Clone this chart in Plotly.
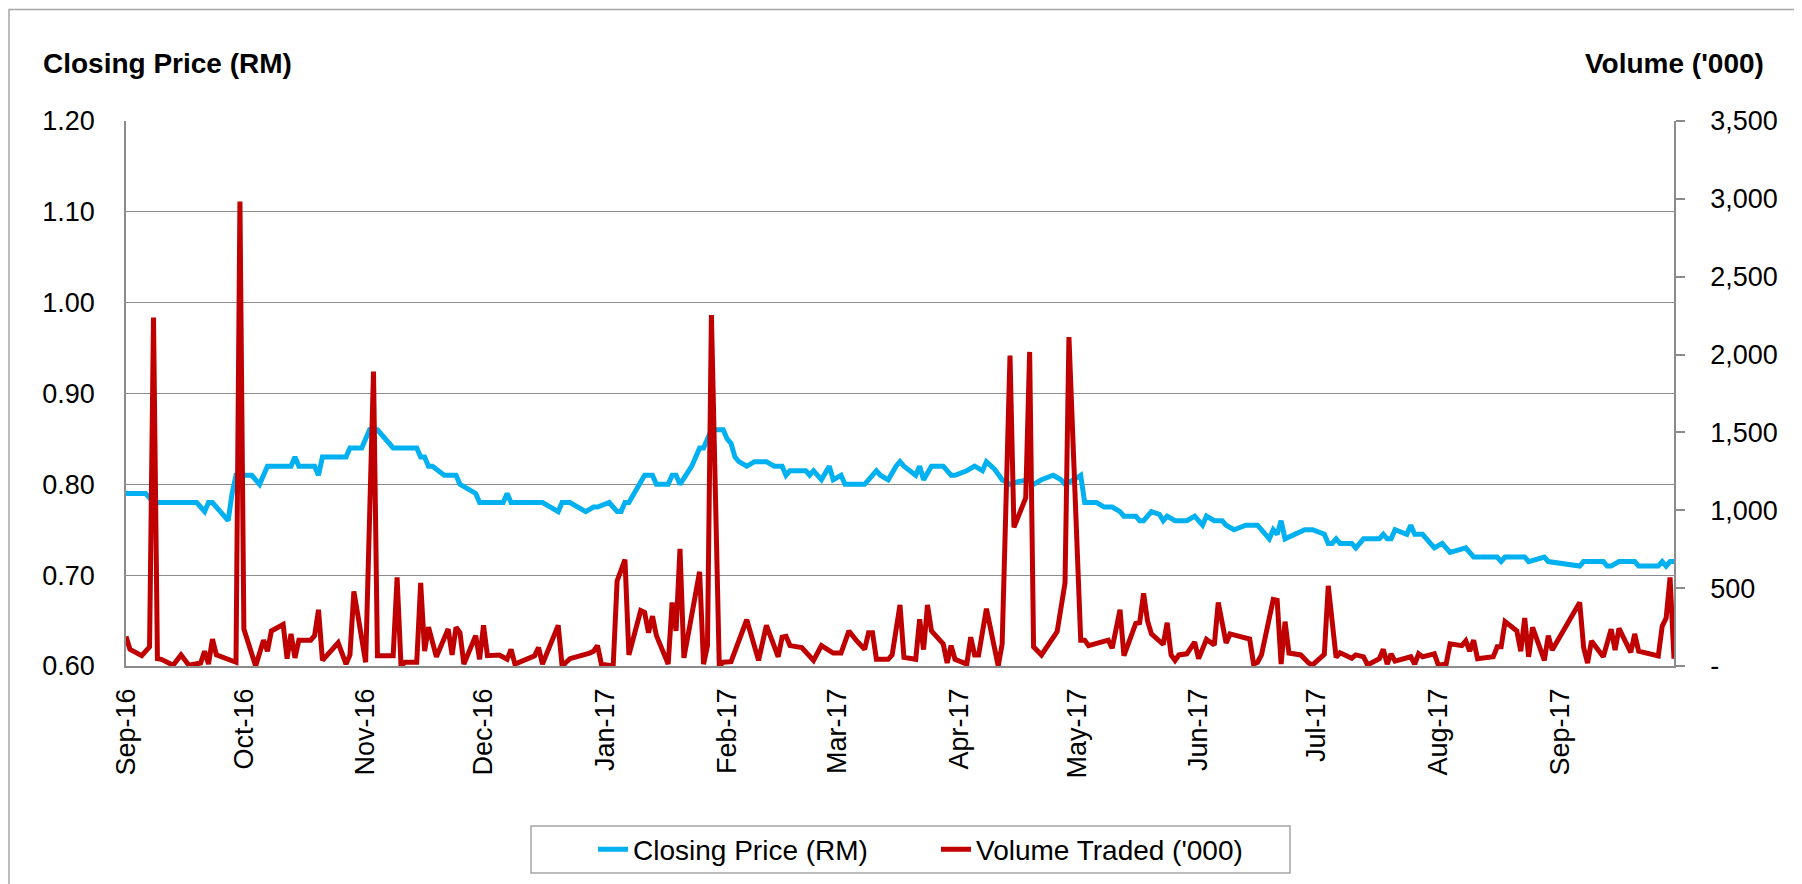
import plotly.graph_objects as go

# ---------------- data ----------------
price_dates = [
    "2016-09-01", "2016-09-06", "2016-09-08", "2016-09-19", "2016-09-21", "2016-09-22", "2016-09-23",
    "2016-09-27", "2016-09-28", "2016-09-29", "2016-10-03", "2016-10-05", "2016-10-07", "2016-10-13",
    "2016-10-14", "2016-10-15", "2016-10-19", "2016-10-20", "2016-10-21", "2016-10-27", "2016-10-28",
    "2016-10-31", "2016-11-02", "2016-11-04", "2016-11-08", "2016-11-14", "2016-11-15", "2016-11-16",
    "2016-11-17", "2016-11-18", "2016-11-21", "2016-11-24", "2016-11-25", "2016-11-27", "2016-11-29",
    "2016-11-30", "2016-12-06", "2016-12-07", "2016-12-08", "2016-12-16", "2016-12-20", "2016-12-21",
    "2016-12-23", "2016-12-27", "2016-12-29", "2016-12-30", "2017-01-02", "2017-01-04", "2017-01-05",
    "2017-01-06", "2017-01-07", "2017-01-11", "2017-01-13", "2017-01-14", "2017-01-17", "2017-01-18",
    "2017-01-19", "2017-01-20", "2017-01-23", "2017-01-24", "2017-01-25", "2017-01-26", "2017-01-28",
    "2017-01-31", "2017-02-01", "2017-02-02", "2017-02-03", "2017-02-04", "2017-02-06", "2017-02-08",
    "2017-02-11", "2017-02-13", "2017-02-15", "2017-02-16", "2017-02-17", "2017-02-21", "2017-02-22",
    "2017-02-23", "2017-02-25", "2017-02-27", "2017-02-28", "2017-03-02", "2017-03-03", "2017-03-08",
    "2017-03-09", "2017-03-11", "2017-03-12", "2017-03-14", "2017-03-16", "2017-03-17", "2017-03-18",
    "2017-03-21", "2017-03-22", "2017-03-23", "2017-03-25", "2017-03-28", "2017-03-30", "2017-03-31",
    "2017-04-03", "2017-04-05", "2017-04-07", "2017-04-08", "2017-04-10", "2017-04-12", "2017-04-14",
    "2017-04-16", "2017-04-19", "2017-04-20", "2017-04-22", "2017-04-25", "2017-04-27", "2017-04-28",
    "2017-05-01", "2017-05-02", "2017-05-03", "2017-05-06", "2017-05-08", "2017-05-10", "2017-05-12",
    "2017-05-13", "2017-05-16", "2017-05-17", "2017-05-18", "2017-05-20", "2017-05-22", "2017-05-23",
    "2017-05-24", "2017-05-26", "2017-05-29", "2017-05-31", "2017-06-02", "2017-06-03", "2017-06-05",
    "2017-06-07", "2017-06-08", "2017-06-10", "2017-06-13", "2017-06-16", "2017-06-19", "2017-06-20",
    "2017-06-21", "2017-06-22", "2017-06-23", "2017-06-28", "2017-06-30", "2017-07-03", "2017-07-04",
    "2017-07-05", "2017-07-06", "2017-07-07", "2017-07-10", "2017-07-11", "2017-07-13", "2017-07-17",
    "2017-07-18", "2017-07-19", "2017-07-20", "2017-07-21", "2017-07-24", "2017-07-25", "2017-07-26",
    "2017-07-28", "2017-07-31", "2017-08-02", "2017-08-04", "2017-08-08", "2017-08-10", "2017-08-16",
    "2017-08-17", "2017-08-18", "2017-08-23", "2017-08-24", "2017-08-28", "2017-08-29", "2017-09-06",
    "2017-09-07", "2017-09-12", "2017-09-13", "2017-09-14", "2017-09-16", "2017-09-20", "2017-09-21",
    "2017-09-26", "2017-09-27", "2017-09-28", "2017-09-29", "2017-09-30",
]
closing_price = [
    0.79, 0.79, 0.78, 0.78, 0.77, 0.78, 0.78,
    0.76, 0.79, 0.81, 0.81, 0.80, 0.82, 0.82,
    0.83, 0.82, 0.82, 0.81, 0.83, 0.83, 0.84,
    0.84, 0.86, 0.86, 0.84, 0.84, 0.83, 0.83,
    0.82, 0.82, 0.81, 0.81, 0.80, 0.795, 0.79,
    0.78, 0.78, 0.79, 0.78, 0.78, 0.77, 0.78,
    0.78, 0.77, 0.775, 0.775, 0.78, 0.77, 0.77,
    0.78, 0.78, 0.81, 0.81, 0.80, 0.80, 0.81,
    0.81, 0.80, 0.82, 0.83, 0.84, 0.84, 0.86,
    0.86, 0.85, 0.845, 0.83, 0.825, 0.82, 0.825,
    0.825, 0.82, 0.82, 0.81, 0.815, 0.815, 0.81,
    0.815, 0.805, 0.82, 0.805, 0.81, 0.80, 0.80,
    0.805, 0.815, 0.81, 0.805, 0.82, 0.825, 0.82,
    0.81, 0.82, 0.805, 0.82, 0.82, 0.81, 0.81,
    0.815, 0.82, 0.815, 0.825, 0.817, 0.805, 0.80,
    0.803, 0.805, 0.80, 0.805, 0.81, 0.805, 0.80,
    0.807, 0.81, 0.78, 0.78, 0.775, 0.775, 0.77,
    0.765, 0.765, 0.76, 0.76, 0.77, 0.767, 0.76,
    0.765, 0.76, 0.76, 0.765, 0.755, 0.765, 0.76,
    0.76, 0.755, 0.75, 0.755, 0.755, 0.74, 0.75,
    0.745, 0.76, 0.74, 0.75, 0.75, 0.745, 0.735,
    0.735, 0.74, 0.735, 0.735, 0.73, 0.74, 0.74,
    0.745, 0.74, 0.74, 0.75, 0.745, 0.755, 0.745,
    0.745, 0.73, 0.735, 0.725, 0.73, 0.72, 0.72,
    0.715, 0.72, 0.72, 0.715, 0.72, 0.715, 0.71,
    0.715, 0.715, 0.71, 0.71, 0.715, 0.715, 0.71,
    0.71, 0.715, 0.71, 0.715, 0.715,
]

volume_dates = [
    "2016-09-01", "2016-09-02", "2016-09-05", "2016-09-07", "2016-09-08", "2016-09-09", "2016-09-10",
    "2016-09-13", "2016-09-15", "2016-09-17", "2016-09-20", "2016-09-21", "2016-09-22", "2016-09-23",
    "2016-09-24", "2016-09-29", "2016-09-30", "2016-10-01", "2016-10-04", "2016-10-06", "2016-10-07",
    "2016-10-08", "2016-10-11", "2016-10-12", "2016-10-13", "2016-10-14", "2016-10-15", "2016-10-18",
    "2016-10-19", "2016-10-20", "2016-10-21", "2016-10-25", "2016-10-27", "2016-10-28", "2016-10-29",
    "2016-11-01", "2016-11-03", "2016-11-04", "2016-11-08", "2016-11-09", "2016-11-10", "2016-11-11",
    "2016-11-14", "2016-11-15", "2016-11-16", "2016-11-17", "2016-11-19", "2016-11-22", "2016-11-23",
    "2016-11-24", "2016-11-25", "2016-11-26", "2016-11-29", "2016-11-30", "2016-12-01", "2016-12-02",
    "2016-12-05", "2016-12-07", "2016-12-08", "2016-12-09", "2016-12-14", "2016-12-15", "2016-12-16",
    "2016-12-20", "2016-12-21", "2016-12-23", "2016-12-28", "2016-12-29", "2016-12-30", "2016-12-31",
    "2017-01-03", "2017-01-04", "2017-01-06", "2017-01-07", "2017-01-10", "2017-01-11", "2017-01-12",
    "2017-01-13", "2017-01-14", "2017-01-17", "2017-01-18", "2017-01-19", "2017-01-20", "2017-01-21",
    "2017-01-25", "2017-01-26", "2017-01-27", "2017-01-28", "2017-01-30", "2017-01-31", "2017-02-02",
    "2017-02-06", "2017-02-09", "2017-02-11", "2017-02-14", "2017-02-15", "2017-02-16", "2017-02-17",
    "2017-02-20", "2017-02-23", "2017-02-25", "2017-02-28", "2017-03-02", "2017-03-04", "2017-03-06",
    "2017-03-08", "2017-03-09", "2017-03-10", "2017-03-11", "2017-03-14", "2017-03-15", "2017-03-17",
    "2017-03-18", "2017-03-21", "2017-03-22", "2017-03-23", "2017-03-24", "2017-03-25", "2017-03-28",
    "2017-03-29", "2017-03-30", "2017-03-31", "2017-04-03", "2017-04-04", "2017-04-05", "2017-04-06",
    "2017-04-08", "2017-04-11", "2017-04-12", "2017-04-14", "2017-04-15", "2017-04-18", "2017-04-19",
    "2017-04-20", "2017-04-22", "2017-04-26", "2017-04-28", "2017-04-29", "2017-05-02", "2017-05-03",
    "2017-05-04", "2017-05-09", "2017-05-10", "2017-05-12", "2017-05-13", "2017-05-16", "2017-05-17",
    "2017-05-18", "2017-05-19", "2017-05-20", "2017-05-23", "2017-05-24", "2017-05-25", "2017-05-26",
    "2017-05-27", "2017-05-29", "2017-05-31", "2017-06-01", "2017-06-03", "2017-06-05", "2017-06-06",
    "2017-06-08", "2017-06-09", "2017-06-14", "2017-06-15", "2017-06-16", "2017-06-17", "2017-06-20",
    "2017-06-21", "2017-06-22", "2017-06-23", "2017-06-24", "2017-06-27", "2017-06-29", "2017-06-30",
    "2017-07-03", "2017-07-04", "2017-07-06", "2017-07-07", "2017-07-10", "2017-07-11", "2017-07-13",
    "2017-07-14", "2017-07-17", "2017-07-18", "2017-07-19", "2017-07-20", "2017-07-21", "2017-07-25",
    "2017-07-26", "2017-07-27", "2017-07-28", "2017-07-31", "2017-08-01", "2017-08-03", "2017-08-04",
    "2017-08-07", "2017-08-08", "2017-08-09", "2017-08-10", "2017-08-11", "2017-08-15", "2017-08-16",
    "2017-08-17", "2017-08-18", "2017-08-21", "2017-08-22", "2017-08-23", "2017-08-24", "2017-08-25",
    "2017-08-28", "2017-08-29", "2017-08-30", "2017-09-06", "2017-09-07", "2017-09-08", "2017-09-09",
    "2017-09-12", "2017-09-14", "2017-09-15", "2017-09-16", "2017-09-19", "2017-09-20", "2017-09-21",
    "2017-09-26", "2017-09-27", "2017-09-28", "2017-09-29", "2017-09-30",
]
volume_traded = [
    190, 107, 66, 123, 2238, 47, 43,
    5, 71, 5, 19, 95, 12, 173,
    71, 24, 2983, 237, 0, 166, 95,
    225, 266, 47, 206, 52, 166, 166,
    195, 361, 36, 149, 12, 71, 479,
    24, 1891, 66, 66, 569, 0, 24,
    24, 534, 95, 249, 59, 237, 71,
    249, 214, 12, 195, 43, 261, 66,
    71, 43, 107, 12, 65, 119, 12,
    261, 0, 47, 83, 95, 131, 12,
    0, 546, 683, 71, 356, 344, 214,
    320, 195, 12, 408, 225, 752, 52,
    605, 12, 131, 2254, 0, 24, 28,
    297, 36, 261, 59, 185, 190, 131,
    119, 36, 131, 83, 83, 225, 161,
    107, 214, 214, 43, 43, 71, 392,
    55, 43, 300, 105, 392, 225, 142,
    20, 131, 43, 12, 185, 71, 71,
    368, 0, 142, 1993, 890, 1080, 2017,
    123, 71, 221, 534, 2112, 166, 166,
    131, 166, 114, 361, 66, 273, 278,
    467, 289, 206, 138, 278, 71, 36,
    71, 78, 154, 47, 171, 135, 408,
    147, 206, 173, 12, 24, 71, 427,
    422, 12, 285, 83, 71, 19, 7,
    75, 515, 55, 85, 50, 71, 59,
    7, 47, 107, 12, 78, 31, 59,
    12, 78, 59, 78, 7, 12, 142,
    131, 161, 95, 166, 47, 59, 123,
    123, 285, 225, 95, 308, 59, 249,
    36, 195, 102, 408, 119, 19, 161,
    59, 237, 102, 242, 88, 206, 95,
    64, 256, 308, 569, 47,
]

month_ticks = ["2016-09-01", "2016-10-01", "2016-11-01", "2016-12-01", "2017-01-01", "2017-02-01",
               "2017-03-01", "2017-04-01", "2017-05-01", "2017-06-01", "2017-07-01", "2017-08-01",
               "2017-09-01"]
price_ticks = [0.6, 0.7, 0.8, 0.9, 1.0, 1.1, 1.2]
volume_ticks = [0, 500, 1000, 1500, 2000, 2500, 3000, 3500]
volume_ticktext = ["-", "500", "1,000", "1,500", "2,000", "2,500", "3,000", "3,500"]

# ---------------- style ----------------
FONT = "Arial, Liberation Sans, sans-serif"
GRID = "#8C8C8C"
BLUE = "#00B0F0"
RED = "#C00000"
OFF = 8                       # page body margin of the html page
W, H = 1802 - OFF, 884 - OFF  # figure size
PL, PT, PR, PB = 126, 121, 1674, 666   # plot area on the page
ML, MT = PL - OFF, PT - OFF
MR, MB = W - (PR - OFF), H - (PB - OFF)
PW, PH = PR - PL, PB - PT
NBSP = "\u00a0"


def px(x):
    return (x - PL) / PW


def py(y):
    return (PB - y) / PH


# pad right-axis labels to a common width so they share the same left edge
_em = {"-": 0.333, ",": 0.278}
_w = [sum(_em.get(c, 0.556) for c in t) for t in volume_ticktext]
_wmax = max(_w)
vol_labels = [t + NBSP * int(round((_wmax - w) / 0.278)) for t, w in zip(volume_ticktext, _w)]

fig = go.Figure()
fig.add_trace(go.Scatter(x=price_dates, y=closing_price, mode="lines", name="Closing Price (RM)",
                         line=dict(color=BLUE, width=5), yaxis="y"))
fig.add_trace(go.Scatter(x=volume_dates, y=volume_traded, mode="lines", name="Volume Traded ('000)",
                         line=dict(color=RED, width=5), yaxis="y2"))

fig.update_layout(
    width=W, height=H,
    margin=dict(l=ML, r=MR, t=MT, b=MB, autoexpand=False),
    paper_bgcolor="white", plot_bgcolor="white",
    font=dict(family=FONT, size=27, color="black"),
    xaxis=dict(type="date", range=["2016-09-01", "2017-09-30"], tickvals=month_ticks,
               tickformat="%b-%y", tickangle=-90, showgrid=False, zeroline=False,
               showline=True, linecolor=GRID, linewidth=1.5, ticks="",
               ticklabelstandoff=10, tickfont=dict(size=27)),
    yaxis=dict(range=[0.6, 1.2], tickvals=price_ticks, tickformat=".2f", showgrid=True,
               gridcolor=GRID, gridwidth=1.4, zeroline=False, showline=True, linecolor=GRID,
               linewidth=1.5, ticks="", ticklabelstandoff=24, tickfont=dict(size=27)),
    yaxis2=dict(range=[0, 3500], tickvals=volume_ticks, ticktext=vol_labels, overlaying="y",
                side="right", showgrid=False, zeroline=False, showline=True, linecolor=GRID,
                linewidth=1.5, ticks="outside", ticklen=9, tickcolor=GRID, tickwidth=1.5,
                ticklabelstandoff=20, tickfont=dict(size=27)),
    legend=dict(orientation="h", x=px(593), xanchor="left", y=py(849.5), yanchor="middle",
                font=dict(size=28), bgcolor="rgba(0,0,0,0)", borderwidth=0,
                entrywidth=298, entrywidthmode="pixels"),
    showlegend=True,
)

fig.add_annotation(text="<b>Closing Price (RM)</b>", xref="paper", yref="paper", x=px(41), y=py(63),
                   xanchor="left", yanchor="middle", showarrow=False, font=dict(size=28))
fig.add_annotation(text="<b>Volume ('000)</b>", xref="paper", yref="paper", x=px(1766), y=py(63),
                   xanchor="right", yanchor="middle", showarrow=False, font=dict(size=28))

# outer chart border and legend box
fig.add_shape(type="rect", xref="paper", yref="paper", x0=px(9), x1=px(1815), y0=py(900), y1=py(9.5),
              line=dict(color="#A6A6A6", width=1.5), fillcolor="rgba(0,0,0,0)", layer="below")
fig.add_shape(type="rect", xref="paper", yref="paper", x0=px(531), x1=px(1290), y0=py(873), y1=py(826),
              line=dict(color="#A6A6A6", width=1.5), fillcolor="rgba(0,0,0,0)")

fig.write_html("out.html")
